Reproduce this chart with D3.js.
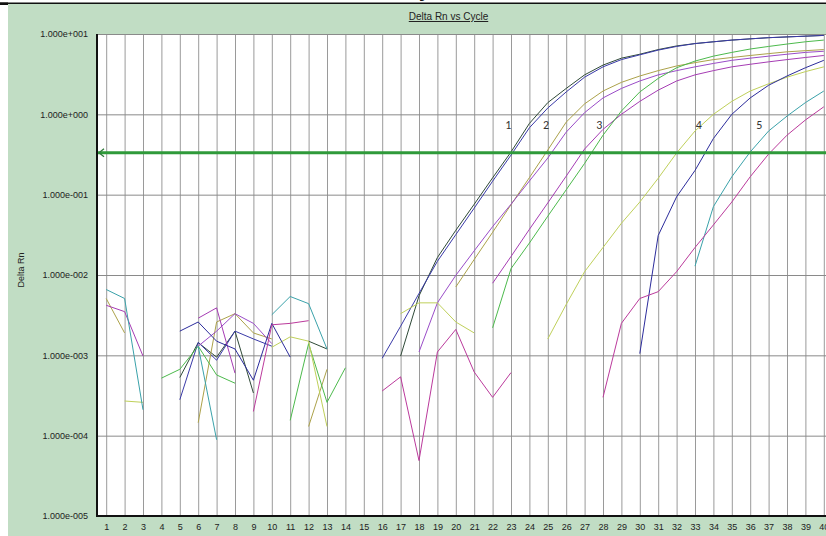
<!DOCTYPE html>
<html>
<head>
<meta charset="utf-8">
<script src="https://cdn.jsdelivr.net/npm/d3@7/dist/d3.min.js"></script>
<style>
  html, body { margin: 0; padding: 0; background: #ffffff; }
  svg { display: block; }
  text { font-family: "Liberation Sans", Arial, sans-serif; }
</style>
</head>
<body>
<svg id="chart" width="826" height="536"></svg>
<script>
// ---------- DATA ----------
const cycles = d3.range(1, 41);
const yTickValues = [1e1, 1e0, 1e-1, 1e-2, 1e-3, 1e-4, 1e-5];
const yTickLabels = ["1.000e+001", "1.000e+000", "1.000e-001", "1.000e-002", "1.000e-003", "1.000e-004", "1.000e-005"];
const threshold = 0.333;
const title = "Delta Rn vs Cycle";
const yTitle = "Delta Rn";

const _ = null;
// one value per cycle (1..40); null = not plotted (<= 0 on log scale)
const s1a = [_, _, _, _, 0.00053, 0.00144, 0.00095, 0.002, 0.00034, _, _, 0.0015, 0.0012, _, _, _, 0.00098, 0.0055, 0.0165, 0.036, 0.076, 0.162, 0.34, 0.77, 1.4, 2.1, 3.1, 4.1, 5.0, 5.6, 6.4, 7.1, 7.6, 8.0, 8.4, 8.7, 9.0, 9.2, 9.4, 9.6];
const s1b = [_, _, _, _, 0.00028, 0.00145, 0.00087, 0.002, 0.0016, 0.0013, _, _, _, _, _, 0.00092, 0.0023, 0.0059, 0.0148, 0.0318, 0.068, 0.147, 0.311, 0.68, 1.2, 1.9, 2.9, 3.9, 4.8, 5.5, 6.3, 7.0, 7.6, 8.0, 8.4, 8.7, 9.0, 9.2, 9.4, 9.6];
const s2a = [0.0051, 0.0019, _, _, _, 0.000145, 0.0026, 0.0033, 0.0019, 0.0016, _, 0.00013, 0.00067, _, _, _, _, _, _, 0.0071, 0.0156, 0.034, 0.075, 0.163, 0.36, 0.8, 1.35, 1.95, 2.5, 3.0, 3.5, 4.0, 4.4, 4.8, 5.1, 5.4, 5.7, 6.0, 6.2, 6.4];
const s2b = [_, _, _, _, _, 0.0013, 0.002, 0.0033, 0.0025, 0.0014, _, _, _, _, _, _, _, 0.0011, 0.0045, 0.0099, 0.02, 0.04, 0.076, 0.148, 0.286, 0.6, 1.05, 1.6, 2.1, 2.6, 3.1, 3.5, 3.9, 4.3, 4.7, 5.0, 5.3, 5.6, 5.9, 6.1];
const s3a = [0.0042, 0.0035, 0.00098, _, _, 0.0029, 0.0039, 0.0006, _, _, _, _, _, _, _, _, _, _, _, _, _, 0.0079, 0.017, 0.037, 0.079, 0.17, 0.37, 0.65, 1.0, 1.45, 2.0, 2.6, 3.1, 3.5, 3.9, 4.2, 4.5, 4.8, 5.1, 5.4];
const s3b = [_, _, _, 0.00052, 0.00067, 0.0013, 0.00057, 0.00045, _, _, 0.000155, 0.0014, 0.00026, 0.0007, _, _, _, _, _, _, _, 0.0022, 0.012, 0.025, 0.054, 0.115, 0.245, 0.55, 1.1, 1.9, 2.8, 3.8, 4.6, 5.3, 5.9, 6.5, 7.0, 7.5, 8.0, 8.4];
const s4a = [_, 0.00027, 0.00026, _, _, _, _, _, _, 0.00126, 0.0017, 0.0015, 0.00013, _, _, _, 0.0033, 0.0045, 0.0045, 0.0026, 0.0019, _, _, _, 0.0016, 0.0043, 0.011, 0.022, 0.044, 0.081, 0.16, 0.33, 0.62, 1.0, 1.45, 1.95, 2.4, 2.9, 3.4, 3.9];
const s4b = [_, _, _, _, 0.002, 0.0026, 0.0015, 0.0012, 0.00049, 0.0025, 0.00095, _, _, _, _, _, _, _, _, _, _, _, _, _, _, _, _, _, _, 0.00105, 0.031, 0.094, 0.2, 0.5, 1.0, 1.6, 2.3, 3.0, 3.8, 4.7];
const s5a = [0.0066, 0.0051, 0.00021, _, _, 0.0013, 0.000089, _, _, 0.0032, 0.0054, 0.0044, 0.0012, _, _, _, _, _, _, _, _, _, _, _, _, _, _, _, _, _, _, _, 0.0129, 0.071, 0.167, 0.34, 0.62, 0.95, 1.4, 1.95];
const s5b = [_, _, _, _, _, _, _, _, 0.0002, 0.0024, 0.0025, 0.0027, _, _, _, 0.00036, 0.00054, 0.000049, 0.0011, 0.0021, 0.00062, 0.0003, 0.00061, _, _, _, _, 0.0003, 0.0025, 0.0051, 0.0062, 0.011, 0.022, 0.042, 0.081, 0.167, 0.32, 0.55, 0.85, 1.24];

const seriesNames = ["s1a", "s1b", "s2a", "s2b", "s3a", "s3b", "s4a", "s4b", "s5a", "s5b"];
const seriesValues = [s1a, s1b, s2a, s2b, s3a, s3b, s4a, s4b, s5a, s5b];
const seriesColors = ["#2f4a38", "#3a3aa8", "#aca24a", "#9a4cc8", "#a63cb4", "#4cba4c", "#bfd05a", "#2c2c9c", "#3aa2aa", "#bb3a9c"];

const curveLabels = ["1", "2", "3", "4", "5"];
const labelCycles = [22.85, 24.9, 27.8, 33.2, 36.5];
const labelValues = [0.74, 0.74, 0.74, 0.74, 0.74];

// ---------- LAYOUT ----------
const W = 826, H = 536;
const plot = { left: 97, top: 34, right: 833, bottom: 516 };

const svg = d3.select("#chart");

// page background
svg.append("rect").attr("x", 0).attr("y", 0).attr("width", W).attr("height", H).attr("fill", "#ffffff");
svg.append("rect").attr("x", 8).attr("y", 4).attr("width", W - 8).attr("height", H - 4).attr("fill", "#c1ddc4");
// top rule (cut-off heading)
svg.append("rect").attr("x", 0).attr("y", 2.5).attr("width", W).attr("height", 1.5).attr("fill", "#111");
svg.append("rect").attr("x", 0).attr("y", 2.5).attr("width", 8).attr("height", 2.5).attr("fill", "#111");
svg.append("text").attr("x", 419).attr("y", -3).attr("font-size", 20).attr("font-weight", "bold").attr("fill", "#111").text("y");

// plot area
svg.append("rect").attr("x", plot.left).attr("y", plot.top)
  .attr("width", plot.right - plot.left).attr("height", plot.bottom - plot.top).attr("fill", "#ffffff");

const x = d3.scaleLinear().domain([0.5, 40.5]).range([plot.left, plot.right]);
const y = d3.scaleLog().domain([1e-5, 1e1]).range([plot.bottom, plot.top]);

// clip
svg.append("clipPath").attr("id", "clip").append("rect")
  .attr("x", plot.left).attr("y", plot.top)
  .attr("width", plot.right - plot.left).attr("height", plot.bottom - plot.top);

// vertical grid
svg.append("g").attr("transform", `translate(0,${plot.bottom})`)
  .call(d3.axisBottom(x).tickValues(cycles).tickSize(-(plot.bottom - plot.top)).tickFormat(""))
  .call(g => g.select(".domain").remove())
  .call(g => g.selectAll(".tick line").attr("stroke", "#9a9a9a").attr("stroke-width", 1));

// horizontal grid
svg.append("g").attr("transform", `translate(${plot.left},0)`)
  .call(d3.axisLeft(y).tickValues(yTickValues).tickSize(-(plot.right - plot.left)).tickFormat(""))
  .call(g => g.select(".domain").remove())
  .call(g => g.selectAll(".tick line").attr("stroke", "#8a8a8a").attr("stroke-width", 1));

// series lines
const line = d3.line()
  .defined(d => d.v != null && d.v > 0)
  .x(d => x(d.c))
  .y(d => y(d.v));

const gLines = svg.append("g").attr("clip-path", "url(#clip)");
seriesValues.forEach((vals, i) => {
  const pts = cycles.map((c, j) => ({ c: c, v: vals[j] }));
  gLines.append("path")
    .attr("d", line(pts))
    .attr("fill", "none")
    .attr("stroke", seriesColors[i])
    .attr("stroke-width", 1)
    .attr("stroke-linejoin", "round");
});

// threshold line
const ty = y(threshold);
svg.append("line").attr("x1", plot.left + 1).attr("x2", W).attr("y1", ty).attr("y2", ty)
  .attr("stroke", "#2f9a3a").attr("stroke-width", 3);
svg.append("path")
  .attr("d", `M${plot.left + 2},${ty} L${plot.left + 7},${ty - 4} M${plot.left + 2},${ty} L${plot.left + 7},${ty + 4}`)
  .attr("stroke", "#2f7a3a").attr("stroke-width", 1.3).attr("fill", "none");

// curve labels
svg.append("g").selectAll("text").data(curveLabels).join("text")
  .attr("x", (d, i) => x(labelCycles[i]))
  .attr("y", (d, i) => y(labelValues[i]))
  .attr("text-anchor", "middle")
  .attr("dominant-baseline", "central")
  .attr("font-size", 12)
  .attr("fill", "#333")
  .style("font-family", "Carlito, 'Liberation Sans', sans-serif")
  .text(d => d);

// axes
const xAxis = svg.append("g").attr("transform", `translate(0,${plot.bottom})`)
  .call(d3.axisBottom(x).tickValues(cycles).tickSize(0).tickPadding(8).tickFormat(d3.format("d")));
xAxis.select(".domain").remove();
xAxis.selectAll("text").attr("font-size", 9).attr("fill", "#222").style("font-family", "'Liberation Sans', Arial, sans-serif");

const yAxis = svg.append("g").attr("transform", `translate(${plot.left},0)`)
  .call(d3.axisLeft(y).tickValues(yTickValues).tickSize(0).tickPadding(9)
    .tickFormat((d, i) => yTickLabels[i]));
yAxis.select(".domain").remove();
yAxis.selectAll("text").attr("font-size", 9).attr("fill", "#222").style("font-family", "'Liberation Sans', Arial, sans-serif");

// axis lines
svg.append("line").attr("x1", plot.left).attr("x2", plot.left).attr("y1", plot.top).attr("y2", plot.bottom + 1)
  .attr("stroke", "#111").attr("stroke-width", 2);
svg.append("line").attr("x1", plot.left - 1).attr("x2", W).attr("y1", plot.bottom).attr("y2", plot.bottom)
  .attr("stroke", "#111").attr("stroke-width", 2);

// titles
const t = svg.append("text").attr("x", 448.5).attr("y", 20).attr("text-anchor", "middle")
  .attr("font-size", 10).attr("fill", "#222").attr("text-decoration", "underline").text(title);

svg.append("text").attr("transform", `translate(24,270) rotate(-90)`)
  .attr("text-anchor", "middle").attr("font-size", 9).attr("fill", "#222").text(yTitle);
</script>
</body>
</html>
